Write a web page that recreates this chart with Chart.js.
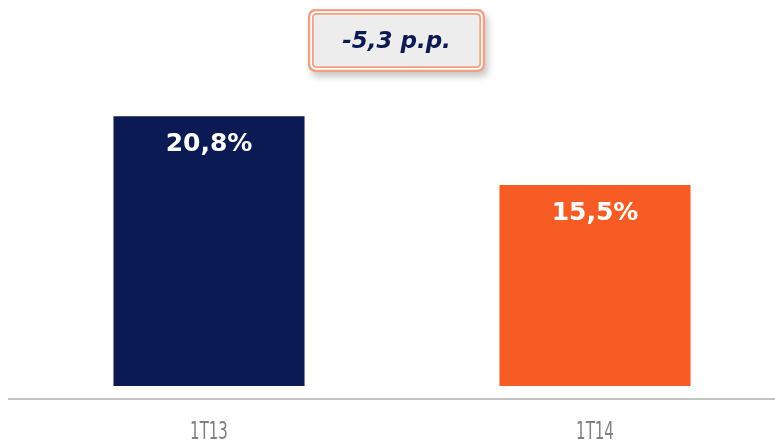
<!DOCTYPE html>
<html>
<head>
<meta charset="utf-8">
<script src="https://cdn.jsdelivr.net/npm/chart.js@4"></script>
<style>
  html, body { margin: 0; padding: 0; background: #fff; overflow: hidden; }
  #wrap { width: 790px; height: 443px; }
</style>
</head>
<body>
<div id="wrap"><canvas id="roeChart" width="790" height="443"></canvas></div>
<script>
const periods = ['1T13', '1T14'];
const values = [20.8, 15.5];
const valueLabels = ['20,8%', '15,5%'];
const barColors = ['#0b1a52', '#f75c25'];
const deltaLabel = '-5,3 p.p.';

const extras = {
  id: 'extras',
  afterDatasetsDraw(chart) {
    const ctx = chart.ctx;
    const x = chart.scales.x;
    const meta = chart.getDatasetMeta(0);
    ctx.save();

    // axis line
    ctx.strokeStyle = '#c3c3c3';
    ctx.lineWidth = 2;
    ctx.beginPath();
    ctx.moveTo(8, chart.chartArea.bottom);
    ctx.lineTo(chart.width, chart.chartArea.bottom);
    ctx.stroke();

    // category labels (narrow font)
    ctx.fillStyle = '#808080';
    ctx.font = '25px "DejaVu Sans"';
    ctx.textAlign = 'center';
    ctx.textBaseline = 'middle';
    periods.forEach((p, i) => {
      const px = x.getPixelForValue(i);
      ctx.save();
      ctx.translate(px, 432);
      ctx.scale(0.6, 1);
      ctx.fillText(p, 0, 0);
      ctx.restore();
    });

    // value labels inside bars
    ctx.fillStyle = '#ffffff';
    ctx.font = 'bold 25px "DejaVu Sans"';
    meta.data.forEach((bar, i) => {
      ctx.fillText(valueLabels[i], bar.x, bar.y + 28);
    });

    // delta box
    const bx = 308, by = 9, bw = 177, bh = 63;
    ctx.shadowColor = 'rgba(0,0,0,0.22)';
    ctx.shadowBlur = 7;
    ctx.shadowOffsetX = 3;
    ctx.shadowOffsetY = 5;
    ctx.fillStyle = '#eeeded';
    ctx.beginPath();
    ctx.roundRect(bx, by, bw, bh, 7);
    ctx.fill();
    ctx.shadowColor = 'transparent';
    ctx.strokeStyle = '#f3a080';
    ctx.lineWidth = 2.5;
    ctx.beginPath();
    ctx.roundRect(bx + 1.2, by + 1.2, bw - 2.4, bh - 2.4, 6);
    ctx.stroke();
    ctx.strokeStyle = '#ffffff';
    ctx.lineWidth = 1.5;
    ctx.beginPath();
    ctx.roundRect(bx + 3.2, by + 3.2, bw - 6.4, bh - 6.4, 5);
    ctx.stroke();
    ctx.strokeStyle = '#f3a080';
    ctx.lineWidth = 1.8;
    ctx.beginPath();
    ctx.roundRect(bx + 4.8, by + 4.8, bw - 9.6, bh - 9.6, 4);
    ctx.stroke();

    ctx.fillStyle = '#0b1a52';
    ctx.font = 'italic bold 23px "DejaVu Sans"';
    ctx.fillText(deltaLabel, bx + bw / 2, by + bh / 2 + 2);

    ctx.restore();
  }
};

new Chart(document.getElementById('roeChart').getContext('2d'), {
  type: 'bar',
  data: {
    labels: periods,
    datasets: [{
      data: values,
      backgroundColor: barColors,
      borderWidth: 0,
      categoryPercentage: 0.495,
      barPercentage: 1
    }]
  },
  options: {
    responsive: false,
    animation: false,
    layout: { padding: { left: 16, right: 2, top: 10, bottom: 44 } },
    plugins: { legend: { display: false }, tooltip: { enabled: false } },
    scales: {
      x: { display: false },
      y: { display: false, min: -1, max: 29 }
    }
  },
  plugins: [extras]
});
</script>
</body>
</html>
